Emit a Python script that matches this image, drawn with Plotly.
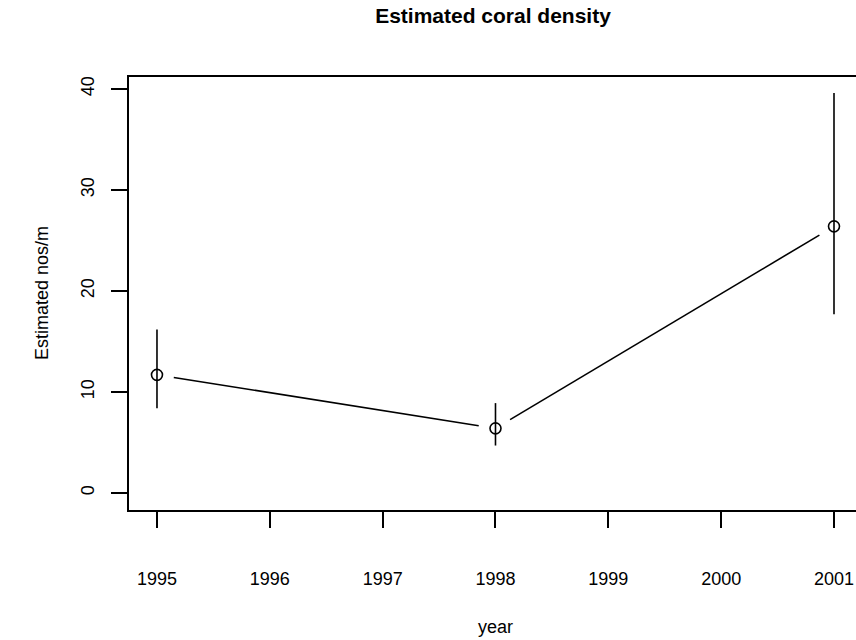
import plotly.graph_objects as go

# Estimated coral density by survey year, with error bars
years = [1995, 1998, 2001]
density = [11.7, 6.4, 26.4]
lower = [8.4, 4.7, 17.7]
upper = [16.2, 8.9, 39.6]

x_ticks = [1995, 1996, 1997, 1998, 1999, 2000, 2001]
y_ticks = [0, 10, 20, 30, 40]

W, H = 856, 640
ML, MR, MT, MB = 129, 0, 77, 130
x_range = [1994.752, 2001.195]
y_range = [-1.683, 41.188]

# R type="b": segments stop short of each point marker
px_x = (W - ML - MR) / (x_range[1] - x_range[0])
px_y = (H - MT - MB) / (y_range[1] - y_range[0])
gap = 17
seg_x, seg_y = [], []
for i in range(len(years) - 1):
    dx = (years[i + 1] - years[i]) * px_x
    dy = (density[i + 1] - density[i]) * px_y
    f = gap / (dx ** 2 + dy ** 2) ** 0.5
    seg_x += [years[i] + (years[i + 1] - years[i]) * f,
              years[i + 1] - (years[i + 1] - years[i]) * f, None]
    seg_y += [density[i] + (density[i + 1] - density[i]) * f,
              density[i + 1] - (density[i + 1] - density[i]) * f, None]

fig = go.Figure()
fig.add_trace(go.Scatter(x=seg_x, y=seg_y, mode="lines",
                         line=dict(color="black", width=1.6), hoverinfo="skip"))
fig.add_trace(go.Scatter(
    x=years, y=density, mode="markers",
    marker=dict(symbol="circle-open", size=11, color="black", line=dict(width=1.6)),
    error_y=dict(type="data", symmetric=False,
                 array=[u - d for u, d in zip(upper, density)],
                 arrayminus=[d - l for d, l in zip(density, lower)],
                 width=0, thickness=1.6, color="black"),
))

font = "Liberation Sans, Arial, sans-serif"
axis_common = dict(showgrid=False, zeroline=False, showline=True, linecolor="black",
                   linewidth=1.5, ticks="outside", ticklen=16, tickwidth=1.5,
                   tickcolor="black", tickfont=dict(family=font, size=18, color="black"))

fig.update_layout(
    width=W, height=H,
    margin=dict(l=ML, r=MR, t=MT, b=MB),
    plot_bgcolor="white", paper_bgcolor="white",
    showlegend=False,
    title=dict(text="<b>Estimated coral density</b>", x=493 / W, xanchor="center",
               y=1 - 16 / H, yanchor="middle", yref="container",
               font=dict(family=font, size=21, color="black")),
    xaxis=dict(range=x_range, tickmode="array", tickvals=x_ticks, mirror=True,
               ticklabelstandoff=36, **axis_common),
    yaxis=dict(range=y_range, tickmode="array", tickvals=y_ticks, tickangle=-90,
               ticklabelstandoff=10, **axis_common),
    annotations=[
        dict(text="year", xref="paper", yref="paper", x=(495 - ML) / (W - ML), y=0,
             yshift=-117, showarrow=False, yanchor="middle",
             font=dict(family=font, size=18, color="black")),
        dict(text="Estimated nos/m", xref="paper", yref="paper", x=0, y=217 / 433,
             xshift=-87, showarrow=False, textangle=-90, xanchor="center",
             font=dict(family=font, size=18, color="black")),
    ],
)

# drop the page's default 8px body margin so the figure sits at the window corner
fig.write_html("out.html", config={"displayModeBar": False},
               post_script="document.body.style.margin='0';")
